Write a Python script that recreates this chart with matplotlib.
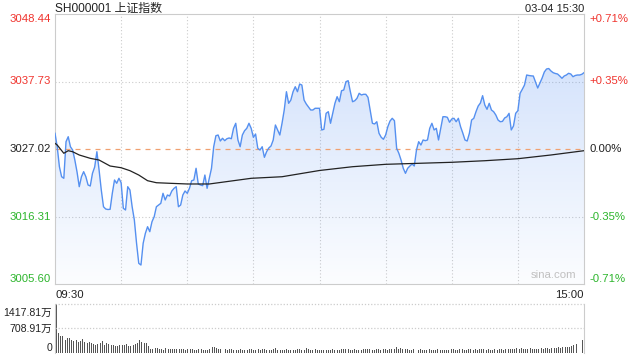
import numpy as np
import matplotlib
matplotlib.use("Agg")
import matplotlib.pyplot as plt

plt.rcParams['font.family'] = ['Liberation Sans', 'Noto Sans CJK SC', 'DejaVu Sans']

title = "SH000001 上证指数"
stamp = "03-04 15:30"
prev_close = 3027.02
price_ticks = [3048.44, 3037.73, 3027.02, 3016.31, 3005.60]
pct_ticks = ["+0.71%", "+0.35%", "0.00%", "-0.35%", "-0.71%"]
vol_ticks = ["1417.81万", "708.91万", "0"]
vol_tick_values = [1417.81, 708.91, 0]
time_labels = ["09:30", "15:00"]

# one price per minute, 09:30 .. 11:30 / 13:00 .. 15:00
price = [
    3029.51, 3027.38, 3024.21, 3022.62, 3022.37, 3028.18, 3028.97, 3027.38, 3026.86, 3025.27,
    3023.37, 3021.04, 3022.62, 3023.42, 3022.62, 3021.31, 3021.15, 3023.16, 3024.16, 3026.59,
    3023.69, 3020.51, 3017.86, 3017.50, 3017.42, 3017.45, 3019.99, 3022.10, 3021.58, 3022.37,
    3021.67, 3017.61, 3017.34, 3021.04, 3020.51, 3017.86, 3015.75, 3012.06, 3008.88, 3008.61,
    3012.06, 3013.64, 3014.69, 3013.90, 3015.48, 3016.28, 3017.86, 3018.13, 3018.40, 3019.99,
    3018.93, 3019.72, 3019.56, 3020.36, 3020.78, 3021.04, 3017.86, 3018.13, 3019.72, 3020.36,
    3019.99, 3020.78, 3021.99, 3022.10, 3023.96, 3021.47, 3021.31, 3021.20, 3022.89, 3020.78,
    3022.37, 3023.96, 3027.38, 3029.13, 3029.24, 3028.29, 3028.72, 3028.34, 3028.65, 3028.77,
    3028.65, 3030.30, 3031.10, 3028.45, 3027.38, 3029.24, 3029.92, 3030.30, 3031.10, 3030.30,
    3028.88, 3029.40, 3027.13, 3026.86, 3027.38, 3025.70, 3026.59, 3027.18, 3027.50, 3028.45,
    3030.83, 3030.04, 3029.24, 3031.10, 3033.21, 3036.11, 3034.27, 3034.79, 3036.11, 3036.90,
    3036.11, 3037.33, 3037.17, 3034.79, 3034.16, 3033.68, 3033.21, 3033.21, 3033.48, 3033.48,
    3033.48, 3030.04, 3030.15, 3032.68, 3032.94, 3031.10, 3032.68, 3034.27, 3035.32, 3034.52,
    3036.27, 3036.38, 3037.70, 3037.86, 3036.11, 3034.52, 3034.68, 3035.06, 3035.86, 3035.59,
    3035.70, 3035.70, 3035.22, 3033.21, 3031.10, 3030.99, 3031.35, 3029.51, 3028.88, 3028.56,
    3029.24, 3030.56, 3031.46, 3031.89, 3031.51, 3027.13, 3026.34, 3025.27, 3023.96, 3023.16,
    3023.96, 3024.32, 3024.64, 3024.32, 3026.86, 3028.18, 3027.65, 3028.45, 3028.34, 3028.45,
    3030.30, 3031.10, 3030.04, 3030.30, 3028.45, 3030.30, 3032.14, 3032.14, 3032.05, 3031.26,
    3031.78, 3031.89, 3031.35, 3031.89, 3030.56, 3029.56, 3028.45, 3028.29, 3029.51, 3031.62,
    3031.89, 3032.94, 3033.84, 3034.32, 3035.48, 3034.00, 3033.32, 3034.27, 3033.21, 3032.94,
    3032.41, 3031.62, 3031.35, 3031.40, 3031.94, 3032.14, 3032.68, 3030.04, 3030.67, 3032.68,
    3033.10, 3035.86, 3036.49, 3037.17, 3038.76, 3038.68, 3038.63, 3038.60, 3037.65, 3036.70,
    3037.49, 3038.28, 3039.24, 3039.71, 3039.79, 3039.40, 3039.13, 3039.00, 3038.92, 3038.60,
    3038.24, 3038.60, 3038.76, 3039.03, 3038.92, 3038.49, 3038.68, 3038.76, 3038.76, 3038.87,
    3039.13,
]

avg_minute = [0, 1, 4, 6, 8, 11, 16, 20, 25, 30, 34, 38, 42, 46, 52, 60, 70, 89, 103,
              120, 135, 150, 165, 180, 195, 210, 225, 240]
avg_price = [3027.92, 3027.65, 3026.34, 3026.75, 3026.59, 3026.07, 3025.54, 3025.27,
             3024.32, 3024.05, 3023.58, 3022.89, 3021.99, 3021.67, 3021.58, 3021.47,
             3021.47, 3022.37, 3022.62, 3023.61, 3024.21, 3024.59, 3024.75, 3024.91,
             3025.16, 3025.48, 3026.07, 3026.75]

# volume per minute, 万
volume = [
    1417.81, 590, 500, 490, 370, 420, 440, 370, 350, 370,
    320, 350, 400, 320, 290, 330, 300, 255, 245, 265,
    275, 360, 245, 275, 270, 245, 235, 215, 195, 245,
    225, 245, 265, 215, 195, 245, 255, 275, 370, 320,
    295, 275, 195, 130, 120, 140, 135, 110, 120, 100,
    140, 125, 120, 110, 105, 115, 110, 105, 110, 100,
    110, 105, 115, 100, 95, 110, 105, 100, 90, 95,
    110, 175, 170, 150, 120, 110, 115, 105, 100, 110,
    120, 90, 95, 100, 110, 85, 100, 95, 130, 105,
    100, 95, 115, 90, 110, 120, 90, 100, 95, 105,
    150, 100, 95, 85, 100, 110, 90, 95, 100, 85,
    105, 110, 95, 100, 140, 110, 95, 100, 105, 90,
    95, 90, 85, 100, 90, 95, 110, 100, 90, 85,
    110, 120, 115, 105, 90, 100, 110, 95, 100, 85,
    110, 115, 120, 110, 100, 95, 105, 130, 95, 110,
    105, 100, 120, 115, 110, 170, 130, 140, 125, 115,
    110, 100, 95, 105, 90, 100, 110, 95, 100, 90,
    105, 100, 85, 95, 110, 100, 90, 95, 85, 100,
    120, 110, 100, 95, 115, 105, 100, 90, 130, 110,
    100, 115, 95, 110, 125, 105, 100, 115, 95, 100,
    110, 95, 105, 120, 100, 110, 125, 115, 105, 130,
    140, 130, 145, 120, 110, 125, 135, 120, 130, 115,
    125, 140, 130, 135, 145, 130, 150, 145, 155, 160,
    150, 165, 175, 170, 185, 190, 220, 250, 10, 6,
    390,
]

minutes = np.arange(len(price))
RED = '#f0352f'
GREEN = '#2cb52c'
GRID = '#cccccc'
LINE = '#5590f0'

fig = plt.figure(figsize=(6.4, 3.6), dpi=100)
W, H = 640, 360
ax = fig.add_axes([55 / W, 1 - 284 / H, 529 / W, 270 / H])
axv = fig.add_axes([55 / W, 1 - 353 / H, 529 / W, 49 / H])

ymin, ymax = price_ticks[-1], price_ticks[0]
ax.set_xlim(0, 240)
ax.set_ylim(ymin, ymax)

# gradient fill under the price line
grad = np.linspace(0.30, 0.02, 256).reshape(-1, 1)
rgba = np.zeros((256, 1, 4))
rgba[..., 0] = 0.33
rgba[..., 1] = 0.56
rgba[..., 2] = 0.95
rgba[..., 3] = grad
im = ax.imshow(rgba, extent=[0, 240, ymin, ymax], aspect='auto', origin='upper', zorder=1)
poly = ax.fill_between(minutes, price, ymin, color='none', lw=0)
clip = poly.get_paths()[0]
im.set_clip_path(clip, transform=ax.transData)

for m in range(30, 240, 30):
    ax.axvline(m, color=GRID, lw=0.8, ls=(0, (1, 2)), zorder=0)
for p in [price_ticks[1], price_ticks[3]]:
    ax.axhline(p, color=GRID, lw=0.8, ls=(0, (1, 2)), zorder=0)
ax.axhline(prev_close, color='#f0a070', lw=0.9, ls=(0, (4, 4)), zorder=2)

ax.plot(minutes, price, color=LINE, lw=1.0, zorder=3)
ax.plot(avg_minute, avg_price, color='#222222', lw=0.9, zorder=3)

ax.set_xticks([])
ax.set_yticks([])
for s in ax.spines.values():
    s.set_color(GRID)
    s.set_linewidth(0.8)

# price labels
cols = [RED, RED, '#222222', GREEN, GREEN]
vas = ['top', 'center', 'center', 'center', 'bottom']
for p, pl, c, va in zip(price_ticks, pct_ticks, cols, vas):
    ax.annotate(f"{p:.2f}", xy=(0, p), xycoords=('axes fraction', 'data'),
                xytext=(-3, 0), textcoords='offset points', ha='right', va=va,
                color=c, fontsize=8.2)
    ax.annotate(pl, xy=(1, p), xycoords=('axes fraction', 'data'),
                xytext=(4, 0), textcoords='offset points', ha='left', va=va,
                color=c, fontsize=8.2)

ax.annotate(title, xy=(0, 1), xycoords='axes fraction', xytext=(0, 1.5),
            textcoords='offset points', ha='left', va='baseline',
            fontsize=8.6, color='#222222')
ax.annotate(stamp, xy=(1, 1), xycoords='axes fraction', xytext=(0, 1.5),
            textcoords='offset points', ha='right', va='baseline',
            fontsize=8.0, color='#222222')
ax.text(0.985, 0.015, "sina.com", transform=ax.transAxes, ha='right', va='bottom',
        fontsize=8.2, color='#c0c0c0')
ax.text(0, -0.022, time_labels[0], transform=ax.transAxes, ha='left', va='top',
        fontsize=8.2, color='#222222')
ax.text(1, -0.022, time_labels[1], transform=ax.transAxes, ha='right', va='top',
        fontsize=8.2, color='#222222')

# volume
axv.bar(minutes, volume, width=0.45, color='#555555', lw=0, align='center')
axv.set_xlim(-0.6, 240.6)
axv.set_ylim(0, vol_tick_values[0])
axv.set_xticks([])
axv.set_yticks([])
axv.axhline(vol_tick_values[0], color=GRID, lw=0.9, ls=(0, (1, 1.5)), clip_on=False)
axv.axhline(vol_tick_values[1], color=GRID, lw=0.9, ls=(0, (1, 1.5)))
for s in ['top', 'bottom']:
    axv.spines[s].set_visible(False)
for s in ['left', 'right']:
    axv.spines[s].set_color(GRID)
    axv.spines[s].set_linewidth(0.8)
for v, lab, va, dy in zip(vol_tick_values, vol_ticks, ['top', 'center', 'bottom'], [-2.5, 0, 0]):
    axv.annotate(lab, xy=(0, v), xycoords=('axes fraction', 'data'),
                 xytext=(-2, dy), textcoords='offset points', ha='right', va=va,
                 color='#222222', fontsize=7.6)

fig.savefig('out.png', dpi=100)
